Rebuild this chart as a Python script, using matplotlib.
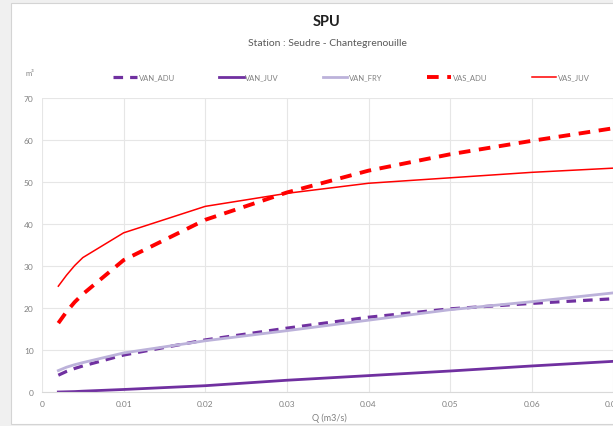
import matplotlib.pyplot as plt
from matplotlib.patches import Rectangle

plt.rcParams['font.family'] = ['Lato', 'DejaVu Sans']

# débits (m3/s) et SPU (m²) par espèce / stade
q = [0.002, 0.003, 0.004, 0.005, 0.01, 0.02, 0.03, 0.04, 0.05, 0.06, 0.07, 0.08]
van_adu = [4.0, 4.9, 5.6, 6.2, 8.8, 12.4, 15.2, 17.8, 19.8, 21.1, 22.2, 23.2]
van_juv = [0.0, 0.05, 0.1, 0.2, 0.6, 1.5, 2.8, 3.9, 5.0, 6.2, 7.3, 8.4]
van_fry = [5.1, 5.9, 6.5, 7.0, 9.3, 12.2, 14.6, 17.1, 19.6, 21.5, 23.6, 25.6]
vas_adu = [16.4, 19.1, 21.4, 23.3, 31.4, 41.0, 47.5, 52.7, 56.6, 59.8, 62.8, 65.5]
vas_juv = [25.2, 27.8, 30.1, 32.0, 37.9, 44.2, 47.3, 49.7, 51.0, 52.3, 53.3, 54.2]

xticks = [0, 0.01, 0.02, 0.03, 0.04, 0.05, 0.06, 0.07, 0.08]
xticklabels = ['0', '0.01', '0.02', '0.03', '0.04', '0.05', '0.06', '0.07', '0.08']

fig = plt.figure(figsize=(6.13, 4.27), dpi=100)
fig.patch.set_facecolor('#f0f0f0')
fig.patches.append(Rectangle((11 / 613, 2 / 427), 1.2, 421 / 427, transform=fig.transFigure,
                             facecolor='white', edgecolor='#d4d4d4', lw=0.8, zorder=-5))

ax = fig.add_axes([42 / 613, 1 - 393 / 427, 653 / 613, 294 / 427])
ax.set_facecolor('white')

l1, = ax.plot(q, van_adu, color='#7030a0', lw=2.3, dashes=(3, 2.2), solid_capstyle='butt')
l2, = ax.plot(q, van_juv, color='#7030a0', lw=2.0)
l3, = ax.plot(q, van_fry, color='#bcb2da', lw=2.0)
l4, = ax.plot(q, vas_adu, color='#ff0000', lw=2.8, dashes=(3, 2.2), solid_capstyle='butt')
l5, = ax.plot(q, vas_juv, color='#ff0000', lw=1.1)

ax.set_xlim(0, 0.08)
ax.set_ylim(0, 70)
ax.set_xticks(xticks)
ax.set_xticklabels(xticklabels)
ax.set_yticks(range(0, 71, 10))
ax.grid(True, color='#e6e6e6', lw=0.8)
ax.set_axisbelow(True)
for s in ['top', 'right', 'left']:
    ax.spines[s].set_visible(False)
ax.spines['bottom'].set_color('#d9d9d9')
ax.tick_params(length=0, labelsize=6, colors='#808080', pad=6)

fig.text(327 / 613, 1 - 22 / 427, 'SPU', ha='center', va='center', fontsize=10.5,
         fontweight='bold', color='#202020')
fig.text(327 / 613, 1 - 43 / 427, 'Station : Seudre - Chantegrenouille', ha='center',
         va='center', fontsize=7.5, color='#595959')
fig.text(30 / 613, 1 - 73 / 427, 'm³', ha='center', va='center', fontsize=5.5, color='#808080')
fig.text(329 / 613, 1 - 418 / 427, 'Q (m3/s)', ha='center', va='center', fontsize=6.5,
         color='#808080')

leg = fig.legend([l1, l2, l3, l4, l5], ['VAN_ADU', 'VAN_JUV', 'VAN_FRY', 'VAS_ADU', 'VAS_JUV'],
                 loc='center', bbox_to_anchor=(351 / 613, 1 - 78 / 427), ncol=5, frameon=False,
                 fontsize=5.5, handlelength=3.2, handletextpad=0.2, columnspacing=5.8)
for t in leg.get_texts():
    t.set_color('#808080')

fig.savefig('out.png', dpi=100)
